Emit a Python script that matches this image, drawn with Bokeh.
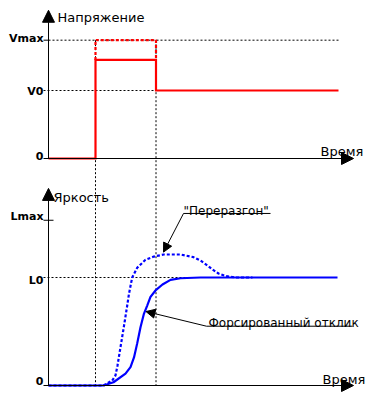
from bokeh.plotting import figure
from bokeh.models import Range1d, Arrow, NormalHead
from bokeh.core.properties import value
from bokeh.embed import file_html
from bokeh.resources import INLINE

# ---------------- data ----------------
# time instants (arbitrary units)
t_step = 4.7          # voltage switched on
t_force_end = 10.75   # end of forcing pulse
t_end = 29.0          # end of drawn traces
t_axis_end = 30.5     # time-axis arrow tip

# voltage levels (V0 = 1)
V0 = 1.0
V_force = 1.45
Vmax = 1.74
v_tick_values = [Vmax, V0, 0.0]
v_tick_labels = ["Vmax", "V0", "0"]

# applied voltage (forced), and dotted "overshoot" voltage
volt_t = [0.0, t_step, t_step, t_force_end, t_force_end, t_end]
volt_v = [0.0, 0.0, V_force, V_force, V0, V0]
over_volt_t = [t_step, t_step, t_force_end, t_force_end]
over_volt_v = [V_force, Vmax, Vmax, V_force]

# brightness levels (L0 = 1)
L0 = 1.0
Lmax = 1.53
l_tick_values = [Lmax, L0, 0.0]
l_tick_labels = ["Lmax", "L0", "0"]

# forced response (solid)
forced_t = [0.0, 5.5, 6.5, 7.7, 8.2, 8.55, 8.87, 9.2, 9.53, 9.87, 10.2, 10.7,
            11.4, 12.2, 13.2, 15.2, 28.9]
forced_l = [0.0, 0.0, 0.03, 0.11, 0.17, 0.26, 0.39, 0.54, 0.66, 0.74, 0.82, 0.88,
            0.935, 0.978, 0.993, 1.0, 1.0]

# overshoot response (dotted)
over_t = [0.0, 5.5, 6.37, 6.7, 6.9, 7.2, 7.53, 7.87, 8.05, 8.37, 8.87, 9.7, 10.53,
          11.53, 13.2, 14.5, 15.2, 15.9, 16.4, 17.0, 17.7, 18.7, 20.4]
over_l = [0.0, 0.0, 0.046, 0.093, 0.185, 0.355, 0.54, 0.74, 0.85, 1.0, 1.09, 1.164,
          1.194, 1.213, 1.213, 1.188, 1.157, 1.111, 1.074, 1.037, 1.014, 1.0, 1.0]

title_v = "Напряжение"
title_l = "Яркость"
title_t = "Время"
note_over = "\"Переразгон\""
note_forced = "Форсированный отклик"

# ---------------- layout ----------------
W, H = 376, 392
X0_PX, PX_T = 48, 10.0        # t=0 position and px per time unit
V0_PX, PX_V = 158, 68.0       # V=0 position (from top) and px per volt unit
L0_PX, PX_L = 385, 108.0      # L=0 position (from top) and px per brightness unit

x_rng = Range1d(-X0_PX / PX_T, (W - X0_PX) / PX_T)
v_rng = Range1d(-(H - V0_PX) / PX_V, V0_PX / PX_V)
l_rng = Range1d(-(H - L0_PX) / PX_L, L0_PX / PX_L)

p = figure(width=W, height=H, x_range=x_rng, y_range=v_rng,
           output_backend="svg", toolbar_location=None,
           x_axis_type=None, y_axis_type=None, min_border=0)
p.extra_y_ranges = {"L": l_rng}
p.outline_line_color = None
p.background_fill_color = "white"

v_axis_top = 2.18
l_axis_top = 1.825
tick_left = -0.5
v_at_l_zero = v_rng.end - (l_rng.end - 0.0) / (l_rng.end - l_rng.start) * (v_rng.end - v_rng.start)

dot = dict(line_color="black", line_width=1, line_dash="2 2")

# guide lines
p.segment(x0=[0.0], y0=[Vmax], x1=[t_end], y1=[Vmax], **dot)
p.segment(x0=[tick_left], y0=[V0], x1=[t_force_end], y1=[V0], **dot)
p.segment(x0=[t_step, t_force_end], y0=[Vmax, Vmax], x1=[t_step, t_force_end],
          y1=[v_at_l_zero, v_at_l_zero], **dot)
p.segment(x0=[tick_left], y0=[L0], x1=[14.0], y1=[L0], y_range_name="L", **dot)

# ticks
p.segment(x0=[tick_left], y0=[Vmax], x1=[0.0], y1=[Vmax], line_color="black", line_width=1)
p.segment(x0=[tick_left], y0=[Lmax], x1=[0.5], y1=[Lmax], line_color="black",
          line_width=1, y_range_name="L")

# axes with arrows
def axis_arrow(xs, ys, xe, ye, rng=None):
    kw = dict(end=NormalHead(size=12, fill_color="black", line_color="black", line_width=1),
              x_start=xs, y_start=ys, x_end=xe, y_end=ye, line_color="black", line_width=1)
    if rng:
        kw["y_range_name"] = rng
    p.add_layout(Arrow(**kw))

axis_arrow(0.0, 0.0, 0.0, v_axis_top)
axis_arrow(tick_left, 0.0, t_axis_end, 0.0)
axis_arrow(0.0, 0.0, 0.0, l_axis_top, "L")
axis_arrow(tick_left, 0.0, t_axis_end, 0.0, "L")

# voltage traces
p.line(over_volt_t, over_volt_v, line_color="#ff0000", line_width=2.2, line_dash="3 2")
p.line(volt_t, volt_v, line_color="#ff0000", line_width=2.2, line_join="miter")

# brightness traces
p.line(over_t, over_l, line_color="#0000ff", line_width=2.2, line_dash="3 2", y_range_name="L")
p.line(forced_t, forced_l, line_color="#0000ff", line_width=2.2, y_range_name="L")

# tick labels
tick_font = dict(text_font=value("DejaVu Sans"), text_font_size="11px", text_font_style="bold",
                 text_align="right", text_baseline="alphabetic", text_color="black")
p.text(x=[0.0] * 3, y=v_tick_values, text=v_tick_labels, x_offset=-5,
       y_offset=[-1.5, 1, -3], **tick_font)
p.text(x=[0.0] * 3, y=l_tick_values, text=l_tick_labels, x_offset=-5,
       y_offset=[-4, 3, -5], y_range_name="L", **tick_font)

# titles
tfont = dict(text_font=value("DejaVu Sans"), text_font_size="13px",
             text_align="left", text_baseline="alphabetic", text_color="black")
p.text(x=[0.0], y=[v_axis_top], text=[title_v], x_offset=9, y_offset=7, **tfont)
p.text(x=[t_axis_end], y=[0.0], text=[title_t], x_offset=-33, y_offset=-7, **tfont)
p.text(x=[0.0], y=[l_axis_top], text=[title_l], x_offset=5, y_offset=9, y_range_name="L", **tfont)
p.text(x=[t_axis_end], y=[0.0], text=[title_t], x_offset=-31, y_offset=-6, y_range_name="L", **tfont)

# annotations
afont = dict(text_font=value("DejaVu Sans"), text_font_size="12px",
             text_align="left", text_baseline="alphabetic", text_color="black")
over_note_x, over_note_y = 13.5, 1.593
forced_note_x, forced_note_y = 15.8, 0.549
p.text(x=[over_note_x], y=[over_note_y], text=[note_over], x_offset=0, y_offset=-2.5,
       y_range_name="L", **afont)
p.segment(x0=[over_note_x], y0=[over_note_y], x1=[22.2], y1=[over_note_y],
          line_color="black", line_width=1, y_range_name="L")
p.add_layout(Arrow(end=NormalHead(size=9, fill_color="black", line_color="black"),
                   x_start=over_note_x, y_start=over_note_y, x_end=11.5, y_end=1.235,
                   line_color="black", line_width=1, y_range_name="L"))
p.text(x=[forced_note_x], y=[forced_note_y], text=[note_forced], x_offset=2, y_offset=-3,
       y_range_name="L", **afont)
p.segment(x0=[forced_note_x], y0=[forced_note_y], x1=[30.4], y1=[forced_note_y],
          line_color="black", line_width=1, y_range_name="L")
p.add_layout(Arrow(end=NormalHead(size=9, fill_color="black", line_color="black"),
                   x_start=forced_note_x, y_start=forced_note_y, x_end=9.75, y_end=0.685,
                   line_color="black", line_width=1, y_range_name="L"))

open("out.html", "w").write(file_html(p, INLINE))
